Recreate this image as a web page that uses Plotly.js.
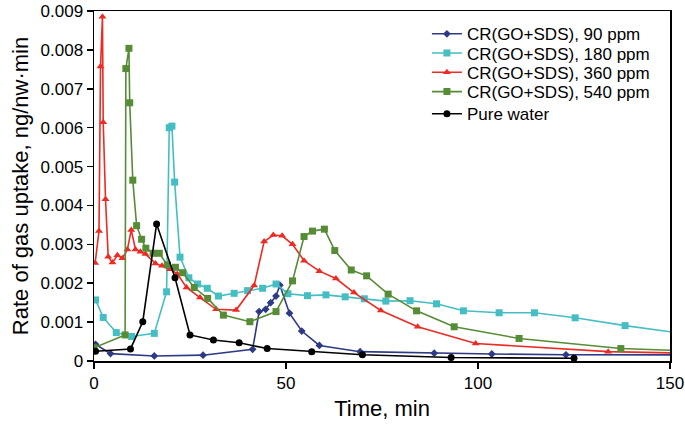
<!DOCTYPE html>
<html>
<head>
<meta charset="utf-8">
<script src="https://cdn.plot.ly/plotly-3.0.1.min.js"></script>
<style>html,body{margin:0;padding:0;background:#fff;}#chart{width:685px;height:426px;}</style>
</head>
<body>
<div id="chart"></div>
<script>
// Series: CR(GO+SDS), 90 ppm
const t90 = [0.4, 4.3, 15.7, 28.4, 41.3, 43.0, 44.7, 46.0, 47.4, 48.4, 50.9, 54.1, 58.7, 69.3, 88.6, 103.6, 122.9, 160];
const v90 = [0.00043, 0.00019, 0.00013, 0.00015, 0.00030, 0.00127, 0.00133, 0.00150, 0.00167, 0.00195, 0.00123, 0.00077, 0.00040, 0.00024, 0.00020, 0.00018, 0.00016, 0.000155];

// Series: CR(GO+SDS), 180 ppm
const t180 = [0.4, 2.4, 5.8, 9.8, 15.7, 18.9, 19.6, 20.3, 21.0, 22.4, 24.7, 27.0, 29.5, 32.4, 36.5, 40.0, 43.9, 47.4, 50.5, 55.6, 60.4, 65.4, 70.4, 76.0, 82.3, 89.2, 96.2, 105.5, 114.7, 125.3, 138.3, 160];
const v180 = [0.00157, 0.00112, 0.00073, 0.00063, 0.00071, 0.00178, 0.00600, 0.00604, 0.00460, 0.00267, 0.00214, 0.00198, 0.00187, 0.00167, 0.00174, 0.00181, 0.00187, 0.00198, 0.00173, 0.00168, 0.00170, 0.00165, 0.00160, 0.00154, 0.00155, 0.00147, 0.00129, 0.00124, 0.00124, 0.00111, 0.00091, 0.00062];

// Series: CR(GO+SDS), 360 ppm
const t360 = [0.3, 1.3, 1.7, 2.2, 2.4, 3.0, 3.7, 4.8, 6.1, 7.4, 8.7, 9.7, 10.8, 12.1, 13.4, 16.0, 17.7, 19.8, 21.7, 24.1, 27.6, 31.8, 37.0, 41.7, 44.3, 46.7, 49.0, 51.7, 54.7, 58.7, 63.0, 67.7, 74.7, 84.3, 99.4, 133.9, 160];
const v360 = [0.00252, 0.00334, 0.00757, 0.00885, 0.00614, 0.00416, 0.00268, 0.00253, 0.00272, 0.00264, 0.00287, 0.00337, 0.00287, 0.00281, 0.00275, 0.00251, 0.00245, 0.00236, 0.00224, 0.00189, 0.00163, 0.00133, 0.00131, 0.00194, 0.00307, 0.00324, 0.00322, 0.00300, 0.00258, 0.00231, 0.00212, 0.00176, 0.00130, 0.00088, 0.00045, 0.00024, 0.00019];

// Series: CR(GO+SDS), 540 ppm
const t540 = [0, 8.1, 8.3, 9.1, 9.3, 10.1, 11.1, 12.4, 13.5, 15.4, 17.0, 19.1, 21.2, 23.1, 26.1, 29.6, 33.7, 40.6, 47.4, 51.7, 54.7, 56.9, 60.0, 62.7, 67.0, 71.0, 76.6, 84.0, 93.8, 110.7, 137.2, 160];
const v540 = [0.00034, 0.00067, 0.00752, 0.00804, 0.00664, 0.00465, 0.00348, 0.00313, 0.00290, 0.00277, 0.00277, 0.00247, 0.00241, 0.00227, 0.00189, 0.00161, 0.00118, 0.00101, 0.00127, 0.00206, 0.00320, 0.00334, 0.00339, 0.00284, 0.00234, 0.00219, 0.00172, 0.00129, 0.00088, 0.00058, 0.00032, 0.00024];

// Series: Pure water
const tWater = [0.4, 9.5, 12.7, 16.3, 21.1, 25.0, 31.1, 37.8, 45.1, 56.7, 69.9, 93.0, 125.0];
const vWater = [0.00025, 0.00031, 0.00101, 0.00352, 0.00214, 0.00067, 0.00054, 0.00047, 0.00032, 0.00024, 0.00016, 0.00009, 0.00007];

const seriesNames = ["CR(GO+SDS), 90 ppm", "CR(GO+SDS), 180 ppm", "CR(GO+SDS), 360 ppm", "CR(GO+SDS), 540 ppm", "Pure water"];

const xTickVals = [0, 50, 100, 150];
const xTickText = ["0", "50", "100", "150"];
const yTickVals = [0, 0.001, 0.002, 0.003, 0.004, 0.005, 0.006, 0.007, 0.008, 0.009];
const yTickText = ["0", "0.001", "0.002", "0.003", "0.004", "0.005", "0.006", "0.007", "0.008", "0.009"];

const FONT = "Liberation Sans, Arial, sans-serif";

function tr(x, y, name, color, symbol, size) {
  return {
    x: x, y: y, name: name, type: "scatter", mode: "lines+markers",
    line: {color: color, width: 1.6},
    marker: {color: color, symbol: symbol, size: size},
    cliponaxis: true
  };
}

const data = [
  tr(t90, v90, seriesNames[0], "#2E3A85", "diamond", 6),
  tr(t180, v180, seriesNames[1], "#45BEC3", "square", 7),
  tr(t360, v360, seriesNames[2], "#EB2B24", "triangle-up", 7),
  tr(t540, v540, seriesNames[3], "#568C35", "square", 7),
  tr(tWater, vWater, seriesNames[4], "#000000", "circle", 7)
];

const layout = {
  width: 685, height: 426,
  margin: {l: 94, r: 15, t: 11, b: 65},
  paper_bgcolor: "#fff", plot_bgcolor: "#fff",
  font: {family: FONT, color: "#000", size: 17},
  showlegend: true,
  legend: {
    x: 0.578, y: 0.985, xanchor: "left", yanchor: "top",
    bgcolor: "rgba(255,255,255,0)", borderwidth: 0,
    font: {family: FONT, size: 17, color: "#000"},
    tracegroupgap: 0
  },
  xaxis: {
    range: [0, 150], tickvals: xTickVals, ticktext: xTickText,
    ticks: "outside", ticklen: 6, tickwidth: 1.5, tickcolor: "#000",
    showline: true, linecolor: "#000", linewidth: 1.5, mirror: true,
    showgrid: false, zeroline: false,
    tickfont: {family: FONT, size: 17},
    title: {text: "Time, min", font: {family: FONT, size: 22}, standoff: 8}
  },
  yaxis: {
    range: [0, 0.009], tickvals: yTickVals, ticktext: yTickText,
    ticks: "outside", ticklen: 6, tickwidth: 1.5, tickcolor: "#000",
    showline: true, linecolor: "#000", linewidth: 1.5, mirror: true,
    showgrid: false, zeroline: false,
    tickfont: {family: FONT, size: 17},
    title: {text: "Rate of gas uptake, ng/nw·min", font: {family: FONT, size: 22}, standoff: 6}
  }
};

Plotly.newPlot("chart", data, layout, {displayModeBar: false, staticPlot: true}).then(function (gd) {
  // tighten legend row spacing to match the reference
  const rowOffsets = [0, 19.2, 38.5, 57.8, 80];
  const rows = gd.querySelectorAll(".legend .traces");
  if (!rows.length) return;
  const m = /translate\(\s*([-\d.]+)[ ,]+([-\d.]+)\s*\)/.exec(rows[0].getAttribute("transform") || "");
  if (!m) return;
  const x0 = parseFloat(m[1]), y0 = parseFloat(m[2]);
  rows.forEach(function (el, i) {
    el.setAttribute("transform", "translate(" + x0 + "," + (y0 + rowOffsets[i]) + ")");
  });
});
</script>
</body>
</html>
